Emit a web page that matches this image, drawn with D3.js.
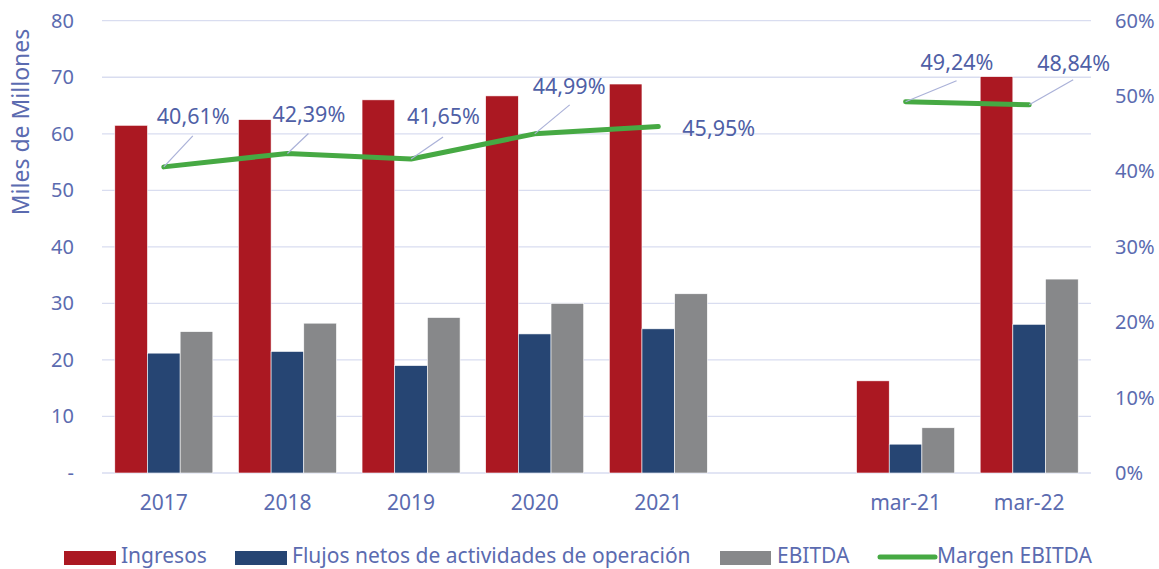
<!DOCTYPE html>
<html>
<head>
<meta charset="utf-8">
<script src="https://cdn.jsdelivr.net/npm/d3@7"></script>
<style>
  body { margin: 0; background: #fff; }
  text { font-family: "Noto Sans", sans-serif; }
</style>
</head>
<body>
<div id="chart"></div>
<script>
// data
const categories = ["2017", "2018", "2019", "2020", "2021", "", "mar-21", "mar-22"];
const ingresos = [61.5, 62.5, 66.0, 66.7, 68.8, null, 16.3, 70.1];
const flujos = [21.2, 21.5, 19.0, 24.6, 25.5, null, 5.1, 26.3];
const ebitda = [25.0, 26.5, 27.5, 30.0, 31.7, null, 8.0, 34.3];
const margen = [40.61, 42.39, 41.65, 44.99, 45.95, null, 49.24, 48.84];
const leftTicks = [0, 10, 20, 30, 40, 50, 60, 70, 80];
const rightTicks = [0, 10, 20, 30, 40, 50, 60];
const seriesNames = ["Ingresos", "Flujos netos de actividades de operación", "EBITDA", "Margen EBITDA"];

// label placement (offset of text start from point, and leader end)
const labelOffsets = [
  { dx: -7, dy: -43, lx: 29, ly: -31 },
  { dx: -15, dy: -31, lx: 21, ly: -20 },
  { dx: -4, dy: -35, lx: 32, ly: -22 },
  { dx: -2, dy: -40, lx: 35, ly: -29 },
  { dx: 24, dy: 9, lx: null, ly: null },
  { dx: 15, dy: -32, lx: 51, ly: -21 },
  { dx: 8, dy: -34, lx: 44, ly: -25 }
];

const w = 1159, h = 569;
const plotLeft = 102, plotRight = 1091, plotTop = 20.7, plotBottom = 473;
const textColor = "#5b6bb0";
const colors = ["#ab1822", "#264573", "#87888a"];
const green = "#46a943";

const svg = d3.select("#chart").append("svg")
  .attr("width", w).attr("height", h);

const x0 = d3.scaleBand().domain(categories).range([plotLeft, plotRight])
  .paddingInner(0.207).paddingOuter(0.1035);
const x1 = d3.scaleBand().domain([0, 1, 2]).range([0, x0.bandwidth()]);
const y = d3.scaleLinear().domain([0, 80]).range([plotBottom, plotTop]);
const y2 = d3.scaleLinear().domain([0, 60]).range([plotBottom, plotTop]);

// gridlines
svg.append("g").selectAll("line").data(leftTicks).enter().append("line")
  .attr("x1", plotLeft).attr("x2", plotRight)
  .attr("y1", d => y(d)).attr("y2", d => y(d))
  .attr("stroke", "#d9ddf0").attr("stroke-width", 1.3);

// left axis
const yAxis = d3.axisLeft(y).tickValues(leftTicks).tickSize(0).tickPadding(0)
  .tickFormat(d => d === 0 ? "-" : d);
svg.append("g").attr("transform", `translate(74,0)`).call(yAxis)
  .call(g => g.select(".domain").remove())
  .selectAll("text").attr("fill", textColor).style("font-size", "20px")
  .style("font-family", "Noto Sans, sans-serif");

// right axis
const yAxis2 = d3.axisRight(y2).tickValues(rightTicks).tickSize(0).tickPadding(0)
  .tickFormat(d => d + "%");
svg.append("g").attr("transform", `translate(1115,0)`).call(yAxis2)
  .call(g => g.select(".domain").remove())
  .selectAll("text").attr("fill", textColor).style("font-size", "20px")
  .style("font-family", "Noto Sans, sans-serif");

// x labels
svg.append("g").selectAll("text").data(categories).enter().append("text")
  .attr("x", d => x0(d) + x0.bandwidth() / 2)
  .attr("y", 510)
  .attr("text-anchor", "middle")
  .attr("fill", textColor).style("font-size", "21px")
  .text(d => d);

// y title
svg.append("text")
  .attr("transform", "translate(29,122) rotate(-90)")
  .attr("text-anchor", "middle")
  .attr("fill", textColor).style("font-size", "23px")
  .text("Miles de Millones");

// bars
const barSeries = [ingresos, flujos, ebitda];
barSeries.forEach((vals, si) => {
  svg.append("g").selectAll("rect")
    .data(categories.map((c, i) => ({ c, v: vals[i] })).filter(d => d.v != null))
    .enter().append("rect")
    .attr("x", d => x0(d.c) + x1(si))
    .attr("y", d => y(d.v))
    .attr("width", x1.bandwidth())
    .attr("height", d => y(0) - y(d.v))
    .attr("fill", colors[si])
    .attr("stroke", "#fff").attr("stroke-width", 0.6);
});

// margin line
const pts = categories.map((c, i) => ({ c, v: margen[i] }));
const line = d3.line()
  .defined(d => d.v != null)
  .x(d => x0(d.c) + x0.bandwidth() / 2)
  .y(d => y2(d.v));
svg.append("path").datum(pts)
  .attr("d", line)
  .attr("fill", "none").attr("stroke", green)
  .attr("stroke-width", 5).attr("stroke-linecap", "round").attr("stroke-linejoin", "round");

// labels
const labeled = pts.filter(d => d.v != null);
labeled.forEach((d, i) => {
  const px = x0(d.c) + x0.bandwidth() / 2, py = y2(d.v);
  const o = labelOffsets[i];
  if (o.lx != null) {
    svg.append("line")
      .attr("x1", px).attr("y1", py)
      .attr("x2", px + o.lx).attr("y2", py + o.ly)
      .attr("stroke", "#aab1d8").attr("stroke-width", 1.2);
  }
  svg.append("text")
    .attr("x", px + o.dx).attr("y", py + o.dy)
    .attr("fill", "#4f5fa6").style("font-size", "21.5px")
    .text(d3.format(".2f")(d.v).replace(".", ",") + "%");
});

// legend
const legend = svg.append("g");
const legendItems = [
  { name: seriesNames[0], x: 64, w: 52, color: colors[0], type: "rect", tx: 121 },
  { name: seriesNames[1], x: 235, w: 52, color: colors[1], type: "rect", tx: 292 },
  { name: seriesNames[2], x: 720, w: 51, color: colors[2], type: "rect", tx: 777 },
  { name: seriesNames[3], x: 880, w: 55, color: green, type: "line", tx: 937 }
];
legendItems.forEach(it => {
  if (it.type === "rect") {
    legend.append("rect").attr("x", it.x).attr("y", 551)
      .attr("width", it.w).attr("height", 14).attr("fill", it.color);
  } else {
    legend.append("line").attr("x1", it.x).attr("x2", it.x + it.w)
      .attr("y1", 557).attr("y2", 557)
      .attr("stroke", it.color).attr("stroke-width", 5).attr("stroke-linecap", "round");
  }
  legend.append("text").attr("x", it.tx).attr("y", 563)
    .attr("fill", textColor).style("font-size", "21px")
    .text(it.name);
});
</script>
</body>
</html>
